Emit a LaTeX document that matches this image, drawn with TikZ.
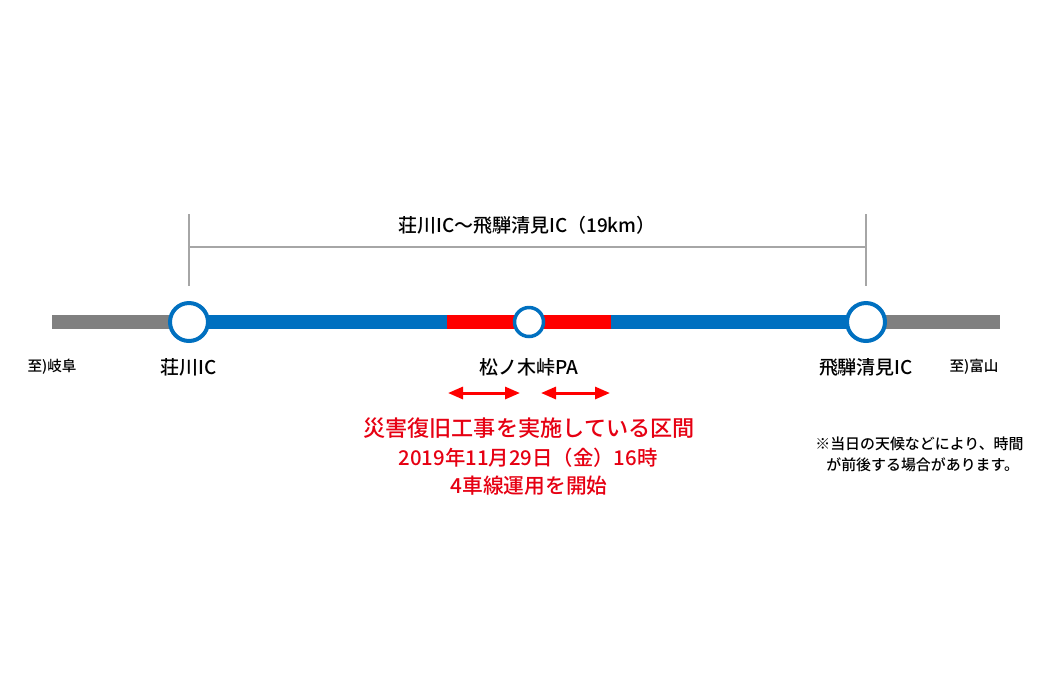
\documentclass[tikz,border=0pt]{standalone}
\usepackage{fontspec}
\setmainfont{Noto Sans CJK JP}[UprightFont=* Medium]
\usepackage{xcolor}
\usepackage{tikz}
\usetikzlibrary{arrows.meta,positioning}
\definecolor{roadblue}{HTML}{0070C0}
\definecolor{roadred}{HTML}{FF0000}
\definecolor{roadgray}{HTML}{808080}
\definecolor{dimgray}{HTML}{A6A6A6}
\definecolor{txtred}{HTML}{E60012}
\tikzset{
  road/.style={line width=0.28cm,line cap=butt},
  ic/.style={circle,draw=roadblue,line width=0.08cm,fill=white,minimum size=0.76cm,inner sep=0pt},
  pa/.style={circle,draw=roadblue,line width=0.07cm,fill=white,minimum size=0.58cm,inner sep=0pt},
  lbl/.style={font=\fontsize{10.8}{12}\selectfont,inner sep=0pt},
  side/.style={font=\fontsize{8.3}{10}\selectfont,inner sep=0pt},
  dim/.style={draw=dimgray,line width=0.85pt},
  ar/.style={{Triangle[length=0.3cm,width=0.24cm]}-{Triangle[length=0.3cm,width=0.24cm]},line width=1.7pt,roadred},
  redtxt/.style={text=txtred,inner sep=0pt},
  note/.style={font=\fontsize{8.5}{10}\selectfont,inner sep=0pt,anchor=west}
}
\begin{document}
\begin{tikzpicture}[x=0.02cm,y=-0.02cm]
\useasboundingbox (0,0) rectangle (1047,698);
% road
\coordinate (gifu) at (52,322); \coordinate (sho) at (189,322);
\coordinate (redL) at (447,322); \coordinate (pac) at (529,322);
\coordinate (redR) at (611,322); \coordinate (hida) at (866,322);
\coordinate (toyama) at (1000,322);
\draw[road,roadgray] (gifu)--(sho); \draw[road,roadgray] (hida)--(toyama);
\draw[road,roadblue] (sho)--(redL); \draw[road,roadblue] (redR)--(hida);
\draw[road,roadred] (redL)--(redR);
\node[ic] (S) at (sho) {}; \node[ic] (H) at (hida) {};
\node[pa] (P) at (pac) {};
% span
\coordinate (dSt) at (189,214); \coordinate (dSb) at (189,286);
\coordinate (dHt) at (866,214); \coordinate (dHb) at (866,286);
\coordinate (dSm) at (189,247); \coordinate (dHm) at (866,247);
\draw[dim] (dSt)--(dSb); \draw[dim] (dHt)--(dHb); \draw[dim] (dSm)--(dHm);
\node[lbl,font=\fontsize{10.8}{12}\selectfont] (span) at (527,225) {荘川IC～飛騨清見IC（19km）};
% labels
\node[side] (gifuL) at (52,367) {至)岐阜};
\node[lbl] (shoL) at (189,367) {荘川IC};
\node[lbl] (paL) at (529,367) {松ノ木峠PA};
\node[lbl] (hidaL) at (866,367) {飛騨清見IC};
\node[side] (toyamaL) at (974,367) {至)富山};
% works
\coordinate (a1) at (448,393); \coordinate (a2) at (520,393);
\coordinate (b1) at (541,393); \coordinate (b2) at (610,393);
\draw[ar] (a1)--(a2); \draw[ar] (b1)--(b2);
\node[redtxt,font=\fontsize{12.6}{14}\selectfont] (w1) at (529,428) {災害復旧工事を実施している区間};
\node[redtxt,font=\fontsize{11.6}{14}\selectfont] (w2) at (528,458) {2019年11月29日（金）16時};
\node[redtxt,font=\fontsize{11.8}{14}\selectfont] (w3) at (529,486) {4車線運用を開始};
% note
\node[note] (n1) at (815,444) {※当日の天候などにより、時間};
\node[note] (n2) at (826,465) {が前後する場合があります。};
\end{tikzpicture}
\end{document}
